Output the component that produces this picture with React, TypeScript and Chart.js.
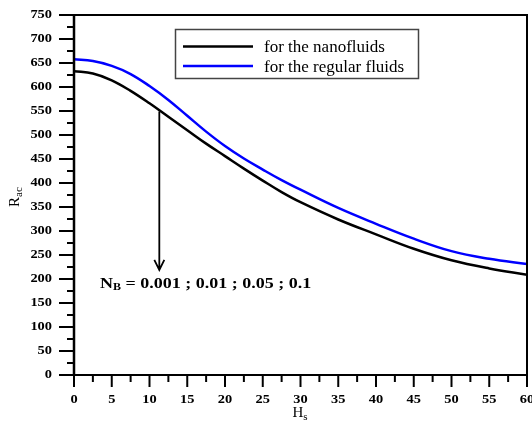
import React, { useEffect, useRef } from "react";
import { Chart, registerables } from "chart.js";

Chart.register(...registerables);

// Data
const H_VALUES = [0, 2.5, 5, 7.5, 10, 12.5, 15, 17.5, 20, 22.5, 25, 27.5, 30, 35, 40, 45, 50, 55, 60];
const NANOFLUIDS = [633, 628, 614, 592, 566, 538, 510, 482, 456, 430, 405, 381, 360, 324, 293, 263, 239, 222, 209];
const REGULAR_FLUIDS = [658, 654, 644, 627, 602, 573, 540, 507, 477, 451, 428, 406, 386, 348, 315, 284, 258, 242, 231];

const X_TICK_LABELS = [0, 5, 10, 15, 20, 25, 30, 35, 40, 45, 50, 55, 60];
const Y_TICK_LABELS = [0, 50, 100, 150, 200, 250, 300, 350, 400, 450, 500, 550, 600, 650, 700, 750];
const LEGEND_LABELS = ["for the nanofluids", "for the regular fluids"];
const SERIES_COLORS = ["#000000", "#0000ff"];
const ANNOTATION_TEXT = " = 0.001 ; 0.01 ; 0.05 ; 0.1";
// arrow annotation (in data units)
const ARROW_H = 11.3;
const ARROW_FROM = 549;
const ARROW_TO = 219;

const SERIF = '"Liberation Serif", "Times New Roman", serif';

function stretchedText(
  ctx: CanvasRenderingContext2D,
  text: string,
  x: number,
  y: number,
  font: string,
  align: "left" | "right" | "center",
  sx: number,
  baseline: CanvasTextBaseline = "middle"
) {
  ctx.save();
  ctx.font = font;
  ctx.textBaseline = baseline;
  const w = ctx.measureText(text).width * sx;
  let left = x;
  if (align === "right") left = x - w;
  else if (align === "center") left = x - w / 2;
  ctx.translate(left, y);
  ctx.scale(sx, 1);
  ctx.textAlign = "left";
  ctx.fillText(text, 0, 0);
  ctx.restore();
  return w;
}

const framePlugin = {
  id: "framePlugin",
  afterDraw(chart: any) {
    const ctx: CanvasRenderingContext2D = chart.ctx;
    const { left, right, top, bottom } = chart.chartArea;
    const xs = chart.scales.x;
    const ys = chart.scales.y;
    ctx.save();
    ctx.strokeStyle = "#000";
    ctx.fillStyle = "#000";
    ctx.lineCap = "butt";

    // frame
    ctx.lineWidth = 2;
    ctx.strokeRect(left, top, right - left, bottom - top);
    ctx.lineWidth = 2.5;
    ctx.beginPath();
    ctx.moveTo(left, top - 1);
    ctx.lineTo(left, bottom + 1);
    ctx.stroke();

    // y ticks
    ctx.lineWidth = 2;
    for (let v = 0; v <= 750; v += 25) {
      const y = ys.getPixelForValue(v);
      const len = v % 50 === 0 ? 15 : 7;
      ctx.beginPath();
      ctx.moveTo(left - len, y);
      ctx.lineTo(left, y);
      ctx.stroke();
    }
    // x ticks
    for (let h = 0; h <= 60; h += 2.5) {
      const x = xs.getPixelForValue(h);
      const len = h % 5 === 0 ? 12 : 7;
      ctx.beginPath();
      ctx.moveTo(x, bottom);
      ctx.lineTo(x, bottom + len);
      ctx.stroke();
    }

    const tickFont = `bold 12px ${SERIF}`;
    Y_TICK_LABELS.forEach((v) => {
      stretchedText(ctx, String(v), 52, ys.getPixelForValue(v), tickFont, "right", 1.2);
    });
    X_TICK_LABELS.forEach((h) => {
      stretchedText(ctx, String(h), xs.getPixelForValue(h), 400, tickFont, "center", 1.2);
    });

    // x title H_s
    {
      ctx.font = `15px ${SERIF}`;
      const wH = ctx.measureText("H").width;
      ctx.font = `11px ${SERIF}`;
      const wS = ctx.measureText("s").width;
      const x0 = 300 - (wH + wS) / 2;
      ctx.textBaseline = "alphabetic";
      ctx.textAlign = "left";
      ctx.font = `15px ${SERIF}`;
      ctx.fillText("H", x0, 417);
      ctx.font = `11px ${SERIF}`;
      ctx.fillText("s", x0 + wH, 420);
    }
    // y title R_ac
    {
      ctx.save();
      ctx.translate(19, 207);
      ctx.rotate(-Math.PI / 2);
      ctx.textBaseline = "alphabetic";
      ctx.textAlign = "left";
      ctx.font = `15px ${SERIF}`;
      ctx.fillText("R", 0, 0);
      const wR = ctx.measureText("R").width;
      ctx.font = `11px ${SERIF}`;
      ctx.fillText("ac", wR, 3);
      ctx.restore();
    }

    // legend
    ctx.lineWidth = 1.5;
    ctx.strokeStyle = "#444";
    ctx.strokeRect(175.5, 29.5, 243, 49);
    const legendY = [46.5, 66];
    LEGEND_LABELS.forEach((label, i) => {
      ctx.strokeStyle = SERIES_COLORS[i];
      ctx.lineWidth = 2.5;
      ctx.beginPath();
      ctx.moveTo(183, legendY[i]);
      ctx.lineTo(253, legendY[i]);
      ctx.stroke();
      ctx.fillStyle = "#000";
      ctx.font = `17px ${SERIF}`;
      ctx.textBaseline = "alphabetic";
      ctx.textAlign = "left";
      ctx.fillText(label, 264, legendY[i] + 5.5);
    });

    // arrow annotation
    const ax = xs.getPixelForValue(ARROW_H);
    const ay0 = ys.getPixelForValue(ARROW_FROM);
    const ay1 = ys.getPixelForValue(ARROW_TO);
    ctx.strokeStyle = "#000";
    ctx.lineWidth = 1.8;
    ctx.beginPath();
    ctx.moveTo(ax, ay0);
    ctx.lineTo(ax, ay1);
    ctx.moveTo(ax - 5, ay1 - 10);
    ctx.lineTo(ax, ay1);
    ctx.lineTo(ax + 5, ay1 - 10);
    ctx.stroke();

    // N_B text
    {
      ctx.fillStyle = "#000";
      const w1 = stretchedText(ctx, "N", 100, 288, `bold 15px ${SERIF}`, "left", 1.2, "alphabetic");
      const w2 = stretchedText(ctx, "B", 100 + w1, 290, `bold 10px ${SERIF}`, "left", 1.2, "alphabetic");
      stretchedText(ctx, ANNOTATION_TEXT, 100 + w1 + w2, 288, `bold 15px ${SERIF}`, "left", 1.2, "alphabetic");
    }

    ctx.restore();
  },
};

export default function App() {
  const canvasRef = useRef<HTMLCanvasElement | null>(null);

  useEffect(() => {
    const canvas = canvasRef.current;
    if (!canvas) return;
    const chart = new Chart(canvas, {
      type: "line",
      data: {
        datasets: [
          {
            label: LEGEND_LABELS[0],
            data: H_VALUES.map((h, i) => ({ x: h, y: NANOFLUIDS[i] })),
            borderColor: SERIES_COLORS[0],
            borderWidth: 2.5,
            pointRadius: 0,
            tension: 0.4,
            fill: false,
          },
          {
            label: LEGEND_LABELS[1],
            data: H_VALUES.map((h, i) => ({ x: h, y: REGULAR_FLUIDS[i] })),
            borderColor: SERIES_COLORS[1],
            borderWidth: 2.5,
            pointRadius: 0,
            tension: 0.4,
            fill: false,
          },
        ],
      },
      options: {
        animation: false,
        responsive: false,
        devicePixelRatio: 1,
        layout: { padding: { left: 0, right: 5, top: 15, bottom: 0 } },
        plugins: { legend: { display: false }, tooltip: { enabled: false } },
        scales: {
          x: {
            type: "linear",
            min: 0,
            max: 60,
            ticks: { display: false, stepSize: 5 },
            grid: { display: false, drawTicks: false },
            border: { display: false },
            afterFit: (s: any) => {
              s.height = 47;
              s.paddingLeft = 0;
              s.paddingRight = 0;
            },
          },
          y: {
            type: "linear",
            min: 0,
            max: 750,
            ticks: { display: false, stepSize: 50 },
            grid: { display: false, drawTicks: false },
            border: { display: false },
            afterFit: (s: any) => {
              s.width = 74;
              s.paddingTop = 0;
              s.paddingBottom = 0;
            },
          },
        },
      },
      plugins: [framePlugin],
    } as any);
    return () => chart.destroy();
  }, []);

  return (
    <div style={{ position: "absolute", left: 0, top: 0, width: 532, height: 422, background: "#fff" }}>
      <canvas ref={canvasRef} width={532} height={422} />
    </div>
  );
}
